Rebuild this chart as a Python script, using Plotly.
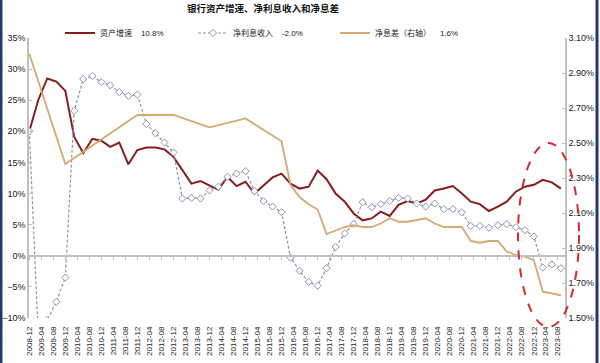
import plotly.graph_objects as go

quarters = [
    "2008-12", "2009-03", "2009-06", "2009-09", "2009-12", "2010-03", "2010-06", "2010-09",
    "2010-12", "2011-03", "2011-06", "2011-09", "2011-12", "2012-03", "2012-06", "2012-09",
    "2012-12", "2013-03", "2013-06", "2013-09", "2013-12", "2014-03", "2014-06", "2014-09",
    "2014-12", "2015-03", "2015-06", "2015-09", "2015-12", "2016-03", "2016-06", "2016-09",
    "2016-12", "2017-03", "2017-06", "2017-09", "2017-12", "2018-03", "2018-06", "2018-09",
    "2018-12", "2019-03", "2019-06", "2019-09", "2019-12", "2020-03", "2020-06", "2020-09",
    "2020-12", "2021-03", "2021-06", "2021-09", "2021-12", "2022-03", "2022-06", "2022-09",
    "2022-12", "2023-03", "2023-06", "2023-09",
]

asset_growth = [
    20.0, 25.0, 28.5, 28.0, 26.5, 19.1, 16.5, 18.8, 18.5, 17.5, 18.2, 14.7, 17.0, 17.4, 17.4,
    17.1, 15.9, 13.8, 11.6, 12.0, 11.3, 10.6, 12.7, 11.2, 11.9, 10.0, 11.3, 12.6, 13.2, 11.6,
    10.8, 11.1, 13.7, 12.3, 10.0, 8.7, 6.8, 5.7, 6.0, 7.1, 6.4, 8.2, 8.8, 8.4, 9.0,
    10.5, 10.8, 11.2, 10.0, 8.7, 8.3, 7.2, 7.9, 8.7, 10.3, 11.1, 11.4, 12.2, 11.8, 10.8,
]

net_interest_income = [
    20.0, -12.5, -10.3, -7.4, -3.5, 23.3, 28.4, 28.9, 27.9, 27.4, 26.3, 25.7, 25.9, 21.2, 19.7,
    18.2, 16.6, 9.2, 9.3, 9.2, 10.5, 11.1, 12.7, 13.2, 13.6, 10.4, 8.8, 7.9, 7.0, -0.3,
    -2.4, -4.2, -4.8, -2.0, 1.4, 3.6, 5.1, 8.6, 7.8, 8.3, 8.8, 9.3, 9.2, 8.4, 7.9,
    8.4, 7.5, 7.5, 7.0, 4.8, 4.8, 4.5, 4.9, 5.1, 4.6, 4.1, 3.1, -1.9, -1.4, -2.0,
]

net_interest_margin = [
    3.01, None, None, None, 2.38, None, None, None, None, None, None, None, 2.66, None, None,
    None, 2.66, None, None, None, 2.59, None, None, None, 2.64, None, None, None, 2.51, 2.26,
    2.19, 2.15, 2.12, 1.98, 2.00, 2.02, 2.03, 2.02, 2.02, 2.04, 2.07, 2.05, 2.05, 2.06, 2.07,
    2.04, 2.02, 2.02, 2.02, 1.94, 1.93, 1.94, 1.94, 1.88, 1.86, 1.85, 1.83, 1.65, 1.64, 1.63,
]

names = ["资产增速", "净利息收入", "净息差（右轴）"]
latest = ["10.8%", "-2.0%", "1.6%"]
left_range = [-10, 35]
right_range = [1.5, 3.1]
title_text = "银行资产增速、净利息收入和净息差"

W, H = 600, 363
L, R, T, B = 29, 565, 38, 318

def px_x(px):
    return (px - L) / (R - L)

def px_y(py):
    return (B - py) / (B - T)

FONT = "Liberation Sans, Noto Sans CJK SC, Arial, sans-serif"
RED = "#861d1d"
TAN = "#d6a96f"
BLUE = "#8a93b3"
AXC = "#c0c0c0"
SP = "\u00a0" * 4

dates = [q + "-01" for q in quarters]

fig = go.Figure()
fig.add_trace(go.Scatter(
    x=dates, y=asset_growth, name=names[0] + SP + latest[0], mode="lines",
    line=dict(color=RED, width=2), legend="legend", hoverinfo="skip",
))
fig.add_trace(go.Scatter(
    x=dates, y=net_interest_income, name=names[1] + SP + latest[1], mode="lines+markers",
    line=dict(color=BLUE, width=1.2, dash="3px,2px"),
    marker=dict(symbol="diamond", size=5.5, color="white", line=dict(color=BLUE, width=1)),
    legend="legend2", hoverinfo="skip",
))
fig.add_trace(go.Scatter(
    x=dates, y=net_interest_margin, name=names[2] + SP + latest[2], mode="lines",
    line=dict(color=TAN, width=1.8), connectgaps=True, yaxis="y2",
    legend="legend3", hoverinfo="skip",
))
# helper trace so the zero-crossing category axis is drawn
fig.add_trace(go.Scatter(
    x=dates, y=[None] * len(dates), xaxis="x2", showlegend=False, hoverinfo="skip",
))

zero_pos = (0 - left_range[0]) / (left_range[1] - left_range[0])
xr = ["2008-11-28", "2023-10-12"]

legend_common = dict(
    orientation="h", xref="container", yref="container", xanchor="left", yanchor="middle",
    font=dict(family=FONT, size=8, color="#222"), bgcolor="rgba(0,0,0,0)",
    borderwidth=0, itemwidth=30,
)
leg_y = 1 - 33 / H

fig.update_layout(
    width=W, height=H,
    margin=dict(l=L, r=W - R, t=T, b=H - B, pad=0, autoexpand=False),
    paper_bgcolor="white", plot_bgcolor="white",
    font=dict(family=FONT, size=9, color="#222"),
    title=dict(text="<b>" + title_text + "</b>", x=263 / W, xanchor="center",
               y=1 - 9 / H, yanchor="middle", xref="container", yref="container",
               font=dict(family=FONT, size=9.5, color="#111")),
    showlegend=True,
    legend=dict(x=60 / W, y=leg_y, **legend_common),
    legend2=dict(x=193 / W, y=leg_y, **legend_common),
    legend3=dict(x=335 / W, y=leg_y, **legend_common),
    xaxis=dict(
        type="date", range=xr, tick0="2008-12-01", dtick="M4", tickformat="%Y-%m",
        tickangle=-90, tickfont=dict(family=FONT, size=8, color="#222"),
        showgrid=False, zeroline=False, showline=False, ticks="", ticklabelstandoff=6,
        automargin=False,
    ),
    xaxis2=dict(
        type="date", matches="x", overlaying="x", anchor="free", position=zero_pos,
        tick0="2008-12-01", dtick="M4", showticklabels=False, showgrid=False,
        zeroline=False, showline=True, linecolor=AXC, linewidth=1.5,
        ticks="outside", ticklen=3, tickcolor=AXC, tickwidth=1, automargin=False,
    ),
    yaxis=dict(
        range=left_range, tick0=left_range[0], dtick=5, ticksuffix="%", showgrid=False,
        zeroline=False, showline=True, linecolor=AXC, linewidth=1.5, ticks="inside",
        ticklen=3, tickcolor=AXC, tickfont=dict(family=FONT, size=9, color="#222"),
        automargin=False,
    ),
    yaxis2=dict(
        range=right_range, tick0=right_range[0], dtick=0.2, tickformat=".2f",
        ticksuffix="%", overlaying="y", side="right", showgrid=False, zeroline=False,
        showline=True, linecolor=AXC, linewidth=1.5, ticks="inside", ticklen=3,
        tickcolor=AXC, tickfont=dict(family=FONT, size=9, color="#222"), automargin=False,
    ),
    shapes=[
        dict(type="circle", xref="paper", yref="paper",
             x0=px_x(518), x1=px_x(579), y0=px_y(327), y1=px_y(143),
             line=dict(color="#d62a2a", width=2, dash="dash")),
        dict(type="line", xref="paper", yref="paper", x0=px_x(1), x1=px_x(1),
             y0=px_y(0), y1=px_y(H), line=dict(color="#1f3a6e", width=3)),
        dict(type="line", xref="paper", yref="paper", x0=px_x(597), x1=px_x(597),
             y0=px_y(0), y1=px_y(H), line=dict(color="#1f3a6e", width=3)),
    ],
)

fig.write_html(
    "out.html",
    config={"displayModeBar": False},
    post_script="document.body.style.margin='0';document.body.style.padding='0';"
                "document.body.style.overflow='hidden';",
)
